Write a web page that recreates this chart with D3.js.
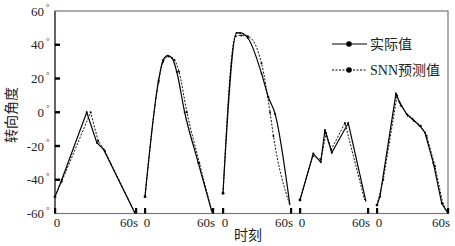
<!DOCTYPE html>
<html><head><meta charset="utf-8">
<script src="https://cdn.jsdelivr.net/npm/d3@7"></script>
<style>body{margin:0;background:#fff}svg{display:block}</style>
</head><body><svg id="c" width="455" height="246"></svg>
<script>
// ---- data ----
const segmentLabels = ["0", "60s"];
const yTicks = [60, 40, 20, 0, -20, -40, -60];
const legendNames = ["实际值", "SNN预测值"];
const actual1 = [[0,-50],[5,-40],[23.5,0],[31,-18],[36,-22],[59.3,-60]];
const predicted1 = [[0,-50],[5,-41],[26.4,0],[32,-17],[37,-23],[59.5,-60]];
const actual2 = [[0,-50],[12,19],[16,31],[20,33.5],[24,32],[28,24],[35,0],[47,-30],[59,-59]];
const predicted2 = [[0,-50],[12,18],[16,30],[21,33],[26,31],[30,24],[37,0],[48,-30],[59.5,-60]];
const actual3 = [[0,-48],[12,47],[15,47],[22,44],[34,23],[40,9],[46,-1],[59,-55]];
const predicted3 = [[0,-48],[11,45],[16,45.5],[22,45],[34,29],[41.5,0],[44.5,-14],[59,-55]];
const actual4 = [[0,-52],[11.7,-24.5],[18.3,-29.5],[22,-10.5],[28,-24],[42.6,-6.4],[58.2,-53]];
const predicted4 = [[0,-52],[11.2,-26],[18.5,-28],[23,-12.3],[27.6,-22],[39.7,-6.4],[57,-52]];
const actual5 = [[0,-55],[2.5,-50],[16,11],[19,6],[25,-1],[30,-4],[36,-8],[40.5,-12],[47.6,-30],[54.7,-54],[60,-60]];
const predicted5 = [[0,-55],[5.3,-40],[17,10],[20,4],[26,-2],[31,-5],[37,-8],[42,-14],[49,-32],[55.6,-54],[60,-60]];
const actualSeries = [actual1, actual2, actual3, actual4, actual5];
const predictedSeries = [predicted1, predicted2, predicted3, predicted4, predicted5];

// ---- layout ----
const L = 55, R = 448, T = 11, B = 213.5;
const segPx = [[55,136],[145,213],[223,291],[300,368],[377,448]];
const smooth = [false, true, true, false, false];
const serif = "'Liberation Serif','Times New Roman',serif";
const cjk = "'Noto Sans CJK SC','Liberation Serif',sans-serif";

const svg = d3.select("#c");
const y = d3.scaleLinear().domain([-60, 60]).range([B, T]);

// frame
svg.append("rect").attr("x", L).attr("y", T).attr("width", R - L).attr("height", B - T)
  .attr("fill", "none").attr("stroke", "#777").attr("stroke-width", 1.2);
svg.append("line").attr("x1", L).attr("x2", L).attr("y1", T).attr("y2", B)
  .attr("stroke", "#333").attr("stroke-width", 1.2);

// y ticks and labels
yTicks.forEach(v => {
  if (v !== 60 && v !== -60) {
    svg.append("rect").attr("x", L).attr("y", y(v) - 1.2).attr("width", 5).attr("height", 2.4).attr("fill", "#000");
  }
  svg.append("text").attr("x", 44).attr("y", y(v) + 4.5).attr("text-anchor", "end")
    .attr("font-family", serif).attr("font-size", 13).attr("fill", "#222").text(v);
  svg.append("text").attr("x", 46).attr("y", y(v) - 1).attr("font-family", serif)
    .attr("font-size", 9).attr("fill", "#222").text("°");
});

// x ticks and labels per segment
segPx.forEach((p, i) => {
  const x = d3.scaleLinear().domain([0, 60]).range(p);
  [0, 60].forEach((t, j) => {
    svg.append("rect").attr("x", x(t) - 1).attr("y", B - 5.5).attr("width", 2.2).attr("height", 5.5).attr("fill", "#000");
    svg.append("text").attr("x", x(t) + 2)
      .attr("y", 227).attr("text-anchor", j === 0 ? "middle" : "end")
      .attr("font-family", serif).attr("font-size", 13).attr("fill", "#222").text(segmentLabels[j]);
  });
});

// series
segPx.forEach((p, i) => {
  const x = d3.scaleLinear().domain([0, 60]).range(p);
  const line = d3.line().x(d => x(d[0])).y(d => y(d[1]))
    .curve(smooth[i] ? d3.curveMonotoneX : d3.curveLinear);
  svg.append("path").attr("d", line(predictedSeries[i])).attr("fill", "none")
    .attr("stroke", "#111").attr("stroke-width", 1).attr("stroke-dasharray", "2,1.5");
  svg.append("path").attr("d", line(actualSeries[i])).attr("fill", "none")
    .attr("stroke", "#000").attr("stroke-width", 1.2);
  [actualSeries[i], predictedSeries[i]].forEach(s => {
    svg.selectAll(null).data(s.slice(1, -1)).enter().append("circle")
      .attr("cx", d => x(d[0])).attr("cy", d => y(d[1])).attr("r", 1).attr("fill", "#000");
  });
  svg.append("circle").attr("cx", x(actualSeries[i][0][0])).attr("cy", y(actualSeries[i][0][1])).attr("r", 1.4).attr("fill", "#000");
});

// axis titles
svg.append("text").attr("x", 248).attr("y", 240).attr("text-anchor", "middle")
  .attr("font-family", cjk).attr("font-size", 14).attr("fill", "#222").text("时刻");
svg.append("text").attr("transform", "translate(16,115) rotate(-90)").attr("text-anchor", "middle")
  .attr("font-family", cjk).attr("font-size", 14).attr("fill", "#222").text("转向角度");

// legend
[0, 1].forEach(k => {
  const ly = k === 0 ? 44 : 70;
  svg.append("line").attr("x1", 332).attr("x2", 367).attr("y1", ly).attr("y2", ly)
    .attr("stroke", "#000").attr("stroke-width", k === 0 ? 1.2 : 1)
    .attr("stroke-dasharray", k === 0 ? null : "2,1.5");
  svg.append("circle").attr("cx", 349).attr("cy", ly).attr("r", 2.8).attr("fill", "#000");
  svg.append("text").attr("x", 370).attr("y", ly + 5).attr("font-family", k === 0 ? cjk : serif)
    .attr("font-size", 14).attr("fill", "#222")
    .call(t => {
      if (k === 0) t.text(legendNames[0]);
      else { t.append("tspan").text("SNN"); t.append("tspan").attr("font-family", cjk).text("预测值"); }
    });
});
</script></body></html>
